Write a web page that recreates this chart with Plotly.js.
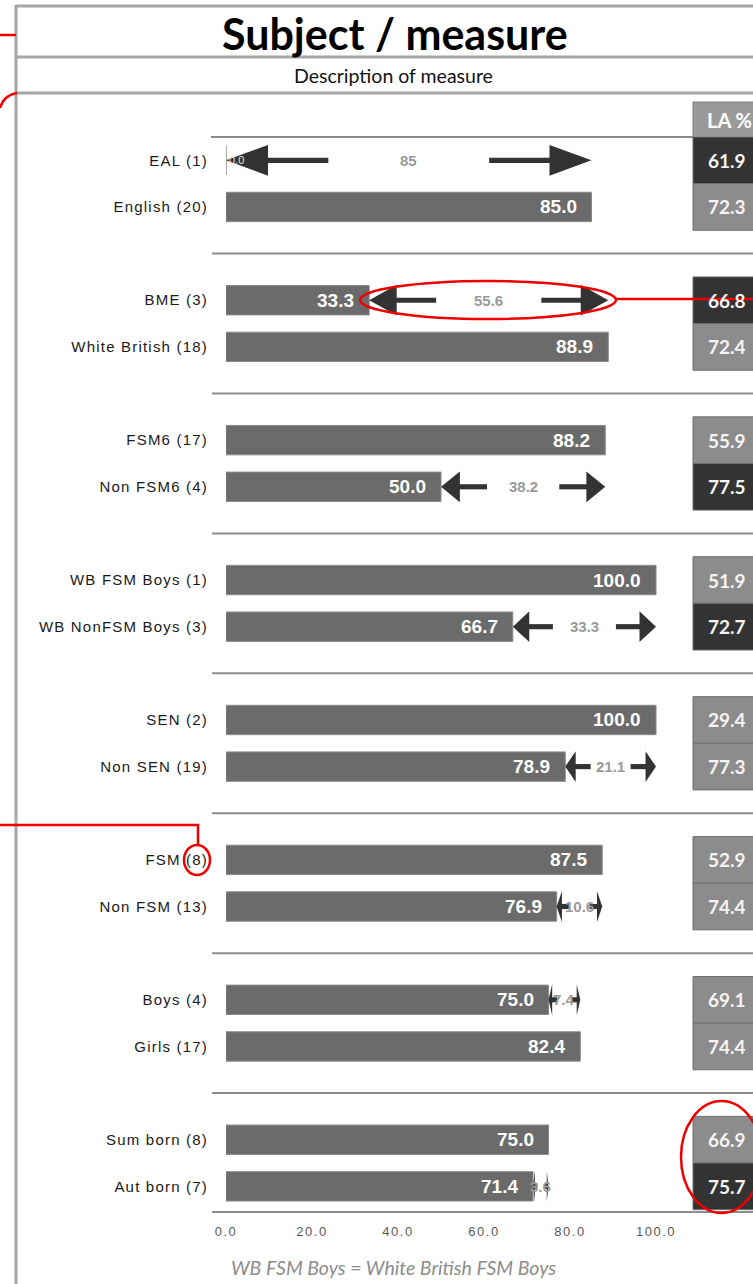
<!DOCTYPE html>
<html><head><meta charset="utf-8">
<script src="https://cdn.plot.ly/plotly-3.0.1.min.js"></script>
<style>
html,body{margin:0;padding:0;background:#fff}
#chart .ytick text{letter-spacing:1.2px}
#chart .xtick text{letter-spacing:1.5px}
</style>
</head><body><div id="chart" style="width:753px;height:1284px"></div>
<script>
// ---------- data ----------
const categories = ["EAL (1)","English (20)","BME (3)","White British (18)","FSM6 (17)","Non FSM6 (4)","WB FSM Boys (1)","WB NonFSM Boys (3)","SEN (2)","Non SEN (19)","FSM (8)","Non FSM (13)","Boys (4)","Girls (17)","Sum born (8)","Aut born (7)"];
const schoolValues = [0.0,85.0,33.3,88.9,88.2,50.0,100.0,66.7,100.0,78.9,87.5,76.9,75.0,82.4,75.0,71.4];
const laValues = [61.9,72.3,66.8,72.4,55.9,77.5,51.9,72.7,29.4,77.3,52.9,74.4,69.1,74.4,66.9,75.7];
const laFlag = [1,0,1,0,0,1,0,1,0,0,0,0,0,0,0,1];
const xTicks = [0,20,40,60,80,100];
const titleText = "Subject / measure";
const subtitleText = "Description of measure";
const laHeader = "LA %";
const footnote = "WB FSM Boys = White British FSM Boys";

// ---------- geometry ----------
const W = 753, H = 1284, L = 226, T = 137, B = 72, R = 0;
const pw = W - L - R, ph = H - T - B;
const xMax = pw / 4.3;
const yTop = -0.5, yBot = 22.55;
const pxX = p => (p - L) / pw;
const pxY = p => (H - B - p) / ph;
const slotOf = i => Math.floor(i / 2) * 3 + (i % 2);
const slots = categories.map((c, i) => slotOf(i));
const laX0 = (693 - L) / 4.3, laXc = (727 - L) / 4.3;

const shapes = [], annotations = [];
const grey = '#a6a6a6', red = '#ee0000';

// frame
shapes.push({type:'line', xref:'paper', yref:'paper', x0:pxX(16), x1:pxX(16), y0:pxY(5), y1:pxY(1290), line:{color:grey, width:3}});
[6, 57, 93].forEach(py => shapes.push({type:'line', xref:'paper', yref:'paper', x0:pxX(16), x1:1.02, y0:pxY(py), y1:pxY(py), line:{color:grey, width:3}}));
// top rule and group separators
shapes.push({type:'line', xref:'paper', yref:'paper', x0:pxX(211), x1:pxX(693), y0:1, y1:1, line:{color:'#8c8c8c', width:2}});
for (let g = 1; g < categories.length / 2; g++) {
  const s = 3 * g - 1, yp = (yBot - s) / (yBot - yTop);
  shapes.push({type:'line', xref:'paper', yref:'paper', x0:pxX(212), x1:1.02, y0:yp, y1:yp, line:{color:'#8c8c8c', width:2}});
}
shapes.push({type:'line', xref:'paper', yref:'paper', x0:pxX(212), x1:1.02, y0:0, y1:0, line:{color:'#8c8c8c', width:2}});

// bar value labels
schoolValues.forEach((v, i) => {
  if (v > 0) {
    annotations.push({xref:'x', yref:'y', x:v, y:slots[i], xanchor:'right', yanchor:'middle', xshift:-13, showarrow:false,
      text:'<b>' + v.toFixed(1) + '</b>', font:{family:'Liberation Sans, Arial', size:19, color:'#ffffff'}});
  } else {
    annotations.push({xref:'x', yref:'y', x:v, y:slots[i], xanchor:'left', yanchor:'middle', xshift:1, showarrow:false,
      text:v.toFixed(1), font:{family:'Liberation Sans, Arial', size:11, color:'#e2e2e2'}});
  }
});

// gap arrows
const arrowCol = '#333333';
for (let g = 0; g < categories.length / 2; g++) {
  const i = 2 * g, j = 2 * g + 1;
  let k, o;
  if (schoolValues[i] < schoolValues[j]) { k = i; o = j; } else if (schoolValues[j] < schoolValues[i]) { k = j; o = i; } else continue;
  const a = schoolValues[k], b = schoolValues[o];
  const gap = Math.round((b - a) * 10) / 10;
  const y = slots[k];
  const hl = 0.115 * gap, hh = 0.33, st = 0.055;
  shapes.push({type:'path', xref:'x', yref:'y', layer:'above', fillcolor:arrowCol, line:{width:0},
    path:`M ${a},${y} L ${a+hl},${y-hh} L ${a+hl},${y+hh} Z`});
  shapes.push({type:'path', xref:'x', yref:'y', layer:'above', fillcolor:arrowCol, line:{width:0},
    path:`M ${b},${y} L ${b-hl},${y-hh} L ${b-hl},${y+hh} Z`});
  shapes.push({type:'rect', xref:'x', yref:'y', layer:'above', fillcolor:arrowCol, line:{width:0},
    x0:a+hl*0.9, x1:a+0.28*gap, y0:y-st, y1:y+st});
  shapes.push({type:'rect', xref:'x', yref:'y', layer:'above', fillcolor:arrowCol, line:{width:0},
    x0:a+0.72*gap, x1:b-hl*0.9, y0:y-st, y1:y+st});
  const txt = Number.isInteger(gap) ? String(gap) : gap.toFixed(1);
  annotations.push({xref:'x', yref:'y', x:(a + b) / 2, y:y, xanchor:'center', yanchor:'middle', showarrow:false,
    text:'<b>' + txt + '</b>', font:{family:'Liberation Sans, Arial', size:15, color:'#9a9a9a'}});
}

// LA column
shapes.push({type:'rect', xref:'paper', yref:'paper', x0:pxX(693), x1:1.05, y0:pxY(137), y1:pxY(102),
  fillcolor:'#9a9a9a', line:{color:'#808080', width:1}});
annotations.push({xref:'paper', yref:'paper', x:pxX(729), y:pxY(120), xanchor:'center', yanchor:'middle', showarrow:false,
  text:'<b>' + laHeader + '</b>', font:{family:'Lato, Open Sans', size:20, color:'#ffffff'}});
laValues.forEach((v, i) => {
  shapes.push({type:'rect', xref:'x', yref:'y', x0:laX0, x1:xMax + 5, y0:slots[i] - 0.5, y1:slots[i] + 0.5,
    fillcolor: laFlag[i] ? '#333333' : '#8c8c8c', line:{color:'#6e6e6e', width:1}});
  annotations.push({xref:'x', yref:'y', x:laXc, y:slots[i], xanchor:'center', yanchor:'middle', showarrow:false,
    text:'<b>' + v.toFixed(1) + '</b>', font:{family:'Lato, Open Sans', size:19, color:'#f4f4f4'}});
});

// titles / footnote
annotations.push({xref:'paper', yref:'paper', x:pxX(395), y:pxY(34), xanchor:'center', yanchor:'middle', showarrow:false,
  text:'<b>' + titleText + '</b>', font:{family:'Lato, Open Sans', size:43, color:'#000000'}});
annotations.push({xref:'paper', yref:'paper', x:pxX(393), y:pxY(76), xanchor:'center', yanchor:'middle', showarrow:false,
  text:subtitleText, font:{family:'Lato, Open Sans', size:19.5, color:'#111111'}});
annotations.push({xref:'paper', yref:'paper', x:pxX(393), y:pxY(1267), xanchor:'center', yanchor:'middle', showarrow:false,
  text:'<i>' + footnote + '</i>', font:{family:'Lato, Open Sans', size:19.5, color:'#8c8c8c'}});

// red callouts
const rl = {color:red, width:2.5};
shapes.push({type:'line', xref:'paper', yref:'paper', layer:'above', x0:pxX(0), x1:pxX(16), y0:pxY(35), y1:pxY(35), line:rl});
shapes.push({type:'path', xref:'paper', yref:'paper', layer:'above', line:rl,
  path:`M ${pxX(0)},${pxY(108)} Q ${pxX(4)},${pxY(95)} ${pxX(17)},${pxY(93)}`});
shapes.push({type:'path', xref:'paper', yref:'paper', layer:'above', line:rl,
  path:`M ${pxX(0)},${pxY(825)} L ${pxX(198)},${pxY(825)} L ${pxX(198)},${pxY(845)}`});
shapes.push({type:'circle', xref:'paper', yref:'paper', layer:'above', line:rl,
  x0:pxX(184), x1:pxX(210), y0:pxY(875), y1:pxY(845)});
shapes.push({type:'circle', xref:'paper', yref:'paper', layer:'above', line:rl,
  x0:pxX(360), x1:pxX(616), y0:pxY(319), y1:pxY(281)});
shapes.push({type:'line', xref:'paper', yref:'paper', layer:'above', x0:pxX(616), x1:1.02, y0:pxY(299), y1:pxY(299), line:rl});
shapes.push({type:'circle', xref:'paper', yref:'paper', layer:'above', line:rl,
  x0:pxX(681), x1:pxX(762), y0:pxY(1213), y1:pxY(1101)});

const trace = {
  type:'bar', orientation:'h', x:schoolValues, y:slots, width:0.63,
  marker:{color:'#6b6b6b', line:{color:'#8a8a8a', width:1}}, hoverinfo:'skip'
};

const layout = {
  width:W, height:H, margin:{l:L, r:R, t:T, b:B, pad:0},
  paper_bgcolor:'#ffffff', plot_bgcolor:'#ffffff', showlegend:false,
  xaxis:{range:[0, xMax], tickvals:xTicks, ticktext:xTicks.map(v => v.toFixed(1)),
    showgrid:false, zeroline:false, showline:false, ticks:'', ticklabelstandoff:10,
    tickfont:{family:'Liberation Sans, Arial', size:13, color:'#595959'}, fixedrange:true},
  yaxis:{range:[yBot, yTop], tickvals:slots, ticktext:categories,
    showgrid:false, zeroline:false, showline:false, ticks:'', ticklabelstandoff:17,
    tickfont:{family:'Liberation Sans, Arial', size:15, color:'#1a1a1a'}, fixedrange:true},
  shapes:shapes, annotations:annotations
};

Plotly.newPlot('chart', [trace], layout, {displayModeBar:false, staticPlot:true});
</script>
</body></html>
